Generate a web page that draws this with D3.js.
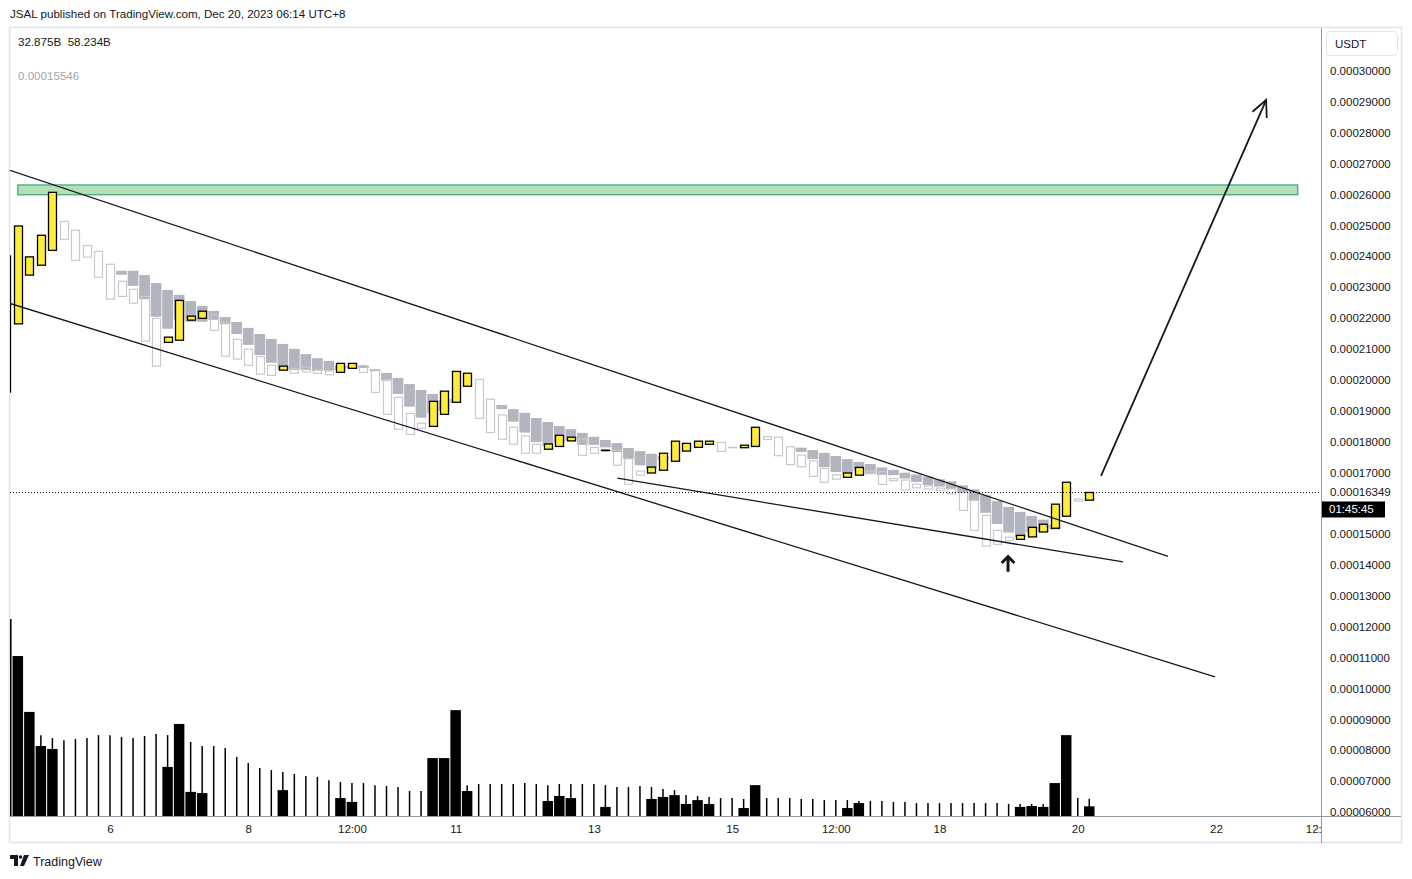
<!DOCTYPE html>
<html>
<head>
<meta charset="utf-8">
<script src="https://cdn.jsdelivr.net/npm/d3@7"></script>
<style>
  body { margin: 0; background: #ffffff; }
  text { font-family: "Liberation Sans", Arial, sans-serif; }
</style>
</head>
<body>
<svg id="c" width="1412" height="879"></svg>
<script>
// ---------------- DATA (4h bars, first bar = Dec 4 12:00, UTC+8) ----------------
const START = Date.UTC(2023, 11, 4, 12);
const H4 = 4 * 3600 * 1000;

const openPrice = [
  19.60e-5, 21.81e-5, 23.39e-5, 23.71e-5, 24.19e-5, 25.13e-5, 24.84e-5, 24.35e-5, 24.16e-5, 23.74e-5,
  23.19e-5, 22.93e-5, 22.70e-5, 21.99e-5, 21.21e-5, 21.28e-5, 21.93e-5, 21.99e-5, 22.10e-5, 21.86e-5,
  21.31e-5, 20.99e-5, 20.75e-5, 20.47e-5, 20.31e-5, 20.36e-5, 20.41e-5, 20.32e-5, 20.29e-5, 20.24e-5,
  20.37e-5, 20.46e-5, 20.33e-5, 20.01e-5, 19.43e-5, 18.91e-5, 18.59e-5, 18.49e-5, 18.88e-5, 19.27e-5,
  19.79e-5, 20.01e-5, 19.37e-5, 18.86e-5, 18.46e-5, 18.18e-5, 17.91e-5, 17.75e-5, 17.84e-5, 18.02e-5,
  18.08e-5, 17.81e-5, 17.71e-5, 17.72e-5, 17.44e-5, 17.04e-5, 16.98e-5, 17.07e-5, 17.36e-5, 17.69e-5,
  17.81e-5, 17.91e-5, 17.97e-5, 17.815e-5, 17.80e-5, 17.84e-5, 18.16e-5, 18.14e-5, 17.83e-5, 17.56e-5,
  17.37e-5, 17.13e-5, 16.92e-5, 16.84e-5, 16.91e-5, 17.04e-5, 17.02e-5, 16.80e-5, 16.75e-5, 16.62e-5,
  16.56e-5, 16.49e-5, 16.47e-5, 16.34e-5, 16.10e-5, 15.61e-5, 15.12e-5, 14.90e-5, 14.83e-5, 14.91e-5,
  15.07e-5, 15.19e-5, 15.58e-5, 16.14e-5, 16.10e-5
];
const closePrice = [
  24.01e-5, 24.98e-5, 23.98e-5, 24.68e-5, 26.07e-5, 24.55e-5, 23.87e-5, 23.97e-5, 23.32e-5, 22.61e-5,
  22.70e-5, 22.48e-5, 21.25e-5, 20.44e-5, 21.38e-5, 22.57e-5, 22.06e-5, 22.22e-5, 21.60e-5, 20.76e-5,
  20.67e-5, 20.47e-5, 20.18e-5, 20.14e-5, 20.44e-5, 20.21e-5, 20.25e-5, 20.21e-5, 20.16e-5, 20.53e-5,
  20.53e-5, 20.24e-5, 19.59e-5, 18.88e-5, 18.40e-5, 18.23e-5, 18.43e-5, 19.30e-5, 19.63e-5, 20.27e-5,
  20.21e-5, 18.75e-5, 18.29e-5, 18.07e-5, 17.91e-5, 17.62e-5, 17.62e-5, 17.92e-5, 18.20e-5, 18.14e-5,
  17.55e-5, 17.62e-5, 17.72e-5, 17.23e-5, 16.62e-5, 16.91e-5, 17.17e-5, 17.62e-5, 18.01e-5, 17.94e-5,
  18.01e-5, 18.01e-5, 17.68e-5, 17.81e-5, 17.88e-5, 18.46e-5, 18.07e-5, 17.54e-5, 17.25e-5, 17.18e-5,
  16.87e-5, 16.68e-5, 16.78e-5, 16.98e-5, 17.16e-5, 16.97e-5, 16.61e-5, 16.73e-5, 16.43e-5, 16.50e-5,
  16.46e-5, 16.41e-5, 16.30e-5, 15.77e-5, 15.12e-5, 14.61e-5, 14.67e-5, 14.79e-5, 14.96e-5, 15.22e-5,
  15.32e-5, 15.97e-5, 16.68e-5, 16.07e-5, 16.349e-5
];
// grey overlay bodies (top / bottom), null where not drawn
const shadeTop = [
  null, null, null, null, null, null, null, null, null, null,
  23.53e-5, 23.53e-5, 23.39e-5, 23.13e-5, 22.91e-5, 22.75e-5, 22.55e-5, 22.39e-5, 22.23e-5, 22.03e-5,
  21.87e-5, 21.68e-5, 21.48e-5, 21.32e-5, 21.16e-5, 21.00e-5, 20.83e-5, 20.70e-5, 20.61e-5, 20.45e-5,
  20.45e-5, 20.46e-5, 20.35e-5, 20.22e-5, 20.06e-5, 19.86e-5, 19.67e-5, 19.54e-5, 19.35e-5, 19.38e-5,
  null, null, null, 19.18e-5, 19.05e-5, 18.93e-5, 18.76e-5, 18.63e-5, 18.50e-5, 18.40e-5,
  18.28e-5, 18.15e-5, 18.05e-5, 17.95e-5, 17.79e-5, 17.69e-5, 17.60e-5, 17.52e-5, null, null,
  null, null, null, null, null, null, null, null, null, 17.80e-5,
  17.72e-5, 17.63e-5, 17.53e-5, 17.43e-5, 17.34e-5, 17.27e-5, 17.16e-5, 17.08e-5, 16.99e-5, 16.93e-5,
  16.86e-5, 16.78e-5, 16.71e-5, 16.58e-5, 16.45e-5, 16.26e-5, 16.07e-5, 15.88e-5, 15.72e-5, 15.59e-5,
  15.47e-5, 15.30e-5, null, null, null
];
const shadeBottom = [
  null, null, null, null, null, null, null, null, null, null,
  23.40e-5, 23.04e-5, 22.61e-5, 22.04e-5, 21.65e-5, 21.95e-5, 21.88e-5, 21.88e-5, 21.94e-5, 21.80e-5,
  21.48e-5, 21.13e-5, 20.80e-5, 20.55e-5, 20.32e-5, 20.32e-5, 20.32e-5, 20.29e-5, 20.29e-5, 20.32e-5,
  20.38e-5, 20.38e-5, 20.28e-5, 19.97e-5, 19.54e-5, 19.13e-5, 18.77e-5, 18.92e-5, 19.00e-5, 19.25e-5,
  null, null, null, 19.05e-5, 18.64e-5, 18.29e-5, 17.98e-5, 17.85e-5, 17.96e-5, 18.03e-5,
  17.89e-5, 17.89e-5, 17.81e-5, 17.66e-5, 17.44e-5, 17.23e-5, 17.13e-5, 17.41e-5, null, null,
  null, null, null, null, null, null, null, null, null, 17.66e-5,
  17.43e-5, 17.17e-5, 17.01e-5, 16.95e-5, 17.05e-5, 16.94e-5, 16.92e-5, 16.91e-5, 16.80e-5, 16.69e-5,
  16.59e-5, 16.54e-5, 16.46e-5, 16.35e-5, 16.08e-5, 15.69e-5, 15.33e-5, 15.05e-5, 14.90e-5, 15.06e-5,
  15.07e-5, 15.15e-5, null, null, null
];
// volume (billions) and its moving average
const volume = [
  670, 544, 354, 238, 228, 0, 0, 0, 0, 0,
  0, 0, 0, 0, 167, 313, 82, 78, 0, 0,
  0, 0, 0, 0, 88, 0, 0, 0, 0, 61,
  48, 0, 0, 0, 0, 0, 0, 197, 197, 360,
  85, 0, 0, 0, 0, 0, 0, 51, 68, 61,
  0, 0, 31, 0, 0, 0, 58, 65, 71, 41,
  54, 41, 0, 0, 27, 105, 0, 0, 0, 0,
  0, 0, 0, 27, 44, 0, 0, 0, 0, 0,
  0, 0, 0, 0, 0, 0, 0, 0, 31, 34,
  31, 112, 275, 0, 32.875
];
const volumeMA = [
  null, null, null, 275, 265, 258, 262, 265, 275, 275,
  269, 265, 272, 279, 275, 272, 252, 238, 238, 231,
  201, 180, 163, 156, 150, 143, 136, 133, 122, 116,
  112, 112, 105, 102, 99, 85, 85, 88, 95, 105,
  105, 109, 109, 109, 109, 112, 109, 105, 109, 109,
  109, 109, 105, 99, 99, 102, 99, 92, 88, 71,
  68, 65, 61, 61, 58, 61, 61, 61, 61, 58,
  58, 54, 54, 54, 51, 51, 51, 48, 48, 44,
  44, 44, 44, 44, 44, 44, 44, 41, 41, 41,
  41, 44, 51, 61, 58.234
];
const priceTicks = [6e-5, 7e-5, 8e-5, 9e-5, 10e-5, 11e-5, 12e-5, 13e-5, 14e-5, 15e-5,
  17e-5, 18e-5, 19e-5, 20e-5, 21e-5, 22e-5, 23e-5, 24e-5, 25e-5, 26e-5, 27e-5, 28e-5, 29e-5, 30e-5];
const timeTickDates = [
  Date.UTC(2023, 11, 6), Date.UTC(2023, 11, 8), Date.UTC(2023, 11, 9, 12), Date.UTC(2023, 11, 11),
  Date.UTC(2023, 11, 13), Date.UTC(2023, 11, 15), Date.UTC(2023, 11, 16, 12), Date.UTC(2023, 11, 18),
  Date.UTC(2023, 11, 20), Date.UTC(2023, 11, 22), Date.UTC(2023, 11, 23, 12)
];
const timeTickLabels = ["6", "8", "12:00", "11", "13", "15", "12:00", "18", "20", "22", "12:00"];
const lastPrice = 16.349e-5;
const countdown = "01:45:45";
const indicatorValue = "0.00015546";
// drawings, positioned by bar index (fractional) and price
const upperLine = [{bar: 0.32, price: 26.78e-5}, {bar: 100.84, price: 14.28e-5}];
const lowerLine = [{bar: 0.32, price: 22.47e-5}, {bar: 104.92, price: 10.38e-5}];
const wedgeLine = [{bar: 53.04, price: 16.815e-5}, {bar: 96.93, price: 14.10e-5}];
const bigArrow = [{bar: 95.02, price: 16.89e-5}, {bar: 109.35, price: 29.06e-5}];
const smallArrow = [{bar: 86.95, price: 13.78e-5}, {bar: 86.95, price: 14.27e-5}];
const zone = {barFrom: 1, barTo: 112.1, priceLow: 25.99e-5, priceHigh: 26.31e-5};

// ---------------- SCALES ----------------
const svg = d3.select("#c");
const plot = {l: 10, r: 1321, t: 27, b: 816};
const x = d3.scaleUtc()
  .domain([new Date(Date.UTC(2023, 11, 6)), new Date(Date.UTC(2023, 11, 22))])
  .range([110, 1216]);
const y = d3.scaleLinear().domain([6e-5, 30e-5]).range([812, 71]);
const vy = d3.scaleLinear().domain([0, 670]).range([816, 619]);
const xb = b => x(new Date(START + b * H4));
const step = xb(1) - xb(0);
const bodyW = 8, shadeW = step * 0.93, volW = step * 0.91;
const idx = d3.range(openPrice.length);
const INK = "#131722";

// ---------------- FRAME ----------------
const defs = svg.append("defs");
defs.append("clipPath").attr("id", "plotClip").append("rect")
  .attr("x", plot.l).attr("y", plot.t).attr("width", plot.r - plot.l).attr("height", plot.b - plot.t);
defs.append("clipPath").attr("id", "timeClip").append("rect")
  .attr("x", plot.l).attr("y", plot.b).attr("width", plot.r - plot.l).attr("height", 27);
defs.append("clipPath").attr("id", "priceClip").append("rect")
  .attr("x", plot.r).attr("y", plot.t).attr("width", 80).attr("height", plot.b - plot.t);

svg.append("text").attr("x", 10).attr("y", 18).attr("font-size", 11.6).attr("fill", INK)
  .text("JSAL published on TradingView.com, Dec 20, 2023 06:14 UTC+8");

svg.append("rect").attr("x", 9.5).attr("y", 27.5).attr("width", 1392).attr("height", 815)
  .attr("fill", "#fff").attr("stroke", "#e0e3eb").attr("stroke-width", 1.5);

// ---------------- PLOT ----------------
const g = svg.append("g").attr("clip-path", "url(#plotClip)");

// green zone
g.append("rect")
  .attr("x", xb(zone.barFrom)).attr("y", y(zone.priceHigh))
  .attr("width", xb(zone.barTo) - xb(zone.barFrom))
  .attr("height", y(zone.priceLow) - y(zone.priceHigh))
  .attr("fill", "#b3dfb5").attr("stroke", "#22966b").attr("stroke-width", 1);

// grey overlay bodies
g.append("g").selectAll("rect")
  .data(idx.filter(k => shadeTop[k] != null))
  .join("rect")
  .attr("x", k => xb(k) - shadeW / 2)
  .attr("y", k => y(shadeTop[k]))
  .attr("width", shadeW)
  .attr("height", k => Math.max(1, y(shadeBottom[k]) - y(shadeTop[k])))
  .attr("fill", "#b2b5be");

// bearish (hollow) candles
g.append("g").selectAll("rect")
  .data(idx.filter(k => closePrice[k] < openPrice[k]))
  .join("rect")
  .attr("x", k => Math.round(xb(k) - bodyW / 2) + 0.5)
  .attr("y", k => y(openPrice[k]))
  .attr("width", bodyW)
  .attr("height", k => Math.max(0.5, y(closePrice[k]) - y(openPrice[k])))
  .attr("fill", "none").attr("stroke", "#c8c9cc").attr("stroke-width", 1.2);

// bullish (yellow) candles
g.append("g").selectAll("rect")
  .data(idx.filter(k => closePrice[k] >= openPrice[k]))
  .join("rect")
  .attr("x", k => Math.round(xb(k) - bodyW / 2) + 0.5)
  .attr("y", k => y(closePrice[k]))
  .attr("width", bodyW)
  .attr("height", k => Math.max(0.5, y(openPrice[k]) - y(closePrice[k])))
  .attr("fill", "#ffeb3b").attr("stroke", "#000").attr("stroke-width", 1.3);

// volume MA columns
g.append("g").selectAll("line")
  .data(idx.filter(k => volumeMA[k] != null))
  .join("line")
  .attr("x1", k => xb(k)).attr("x2", k => xb(k))
  .attr("y1", vy(0)).attr("y2", k => vy(volumeMA[k]))
  .attr("stroke", "#000").attr("stroke-width", 1.5);

// volume bars
g.append("g").selectAll("rect")
  .data(idx.filter(k => volume[k] > 0))
  .join("rect")
  .attr("x", k => xb(k) - volW / 2)
  .attr("y", k => vy(volume[k]))
  .attr("width", volW)
  .attr("height", k => vy(0) - vy(volume[k]))
  .attr("fill", "#000");

// trend lines
const lineGen = d3.line().x(d => xb(d.bar)).y(d => y(d.price));
[upperLine, lowerLine, wedgeLine].forEach(pts => {
  g.append("path").attr("d", lineGen(pts)).attr("fill", "none")
    .attr("stroke", INK).attr("stroke-width", 1.3);
});

// arrows
function arrow(pts, width, headLen, headAngle) {
  const x0 = xb(pts[0].bar), y0 = y(pts[0].price), x1 = xb(pts[1].bar), y1 = y(pts[1].price);
  const a = Math.atan2(y1 - y0, x1 - x0);
  const wing = s => [x1 - headLen * Math.cos(a + s * headAngle), y1 - headLen * Math.sin(a + s * headAngle)];
  g.append("path").attr("d", d3.line()([[x0, y0], [x1, y1]])).attr("fill", "none")
    .attr("stroke", INK).attr("stroke-width", width);
  g.append("path").attr("d", d3.line()([wing(1), [x1, y1], wing(-1)])).attr("fill", "none")
    .attr("stroke", INK).attr("stroke-width", width).attr("stroke-linejoin", "miter");
}
arrow(bigArrow, 1.8, 18, Math.PI / 7);
arrow(smallArrow, 3, 9, Math.PI / 4);

// last price dotted line
svg.append("line").attr("x1", plot.l).attr("x2", plot.r)
  .attr("y1", Math.round(y(lastPrice)) + 0.5).attr("y2", Math.round(y(lastPrice)) + 0.5)
  .attr("stroke", "#000").attr("stroke-width", 1).attr("stroke-dasharray", "1,2");

// legend texts
svg.append("text").attr("x", 18).attr("y", 46).attr("font-size", 11.6).attr("fill", INK)
  .attr("xml:space", "preserve")
  .text(`${volume[volume.length - 1].toFixed(3)}B  ${volumeMA[volumeMA.length - 1].toFixed(3)}B`);
svg.append("text").attr("x", 18).attr("y", 80).attr("font-size", 11.6).attr("fill", "#a3a6af")
  .text(indicatorValue);

// ---------------- AXES ----------------
svg.append("line").attr("x1", plot.r + 0.5).attr("x2", plot.r + 0.5).attr("y1", 28).attr("y2", 843)
  .attr("stroke", "#9598a1").attr("stroke-width", 1);
svg.append("line").attr("x1", 10).attr("x2", 1401).attr("y1", plot.b + 0.5).attr("y2", plot.b + 0.5)
  .attr("stroke", "#9598a1").attr("stroke-width", 1);

const yAxis = svg.append("g").attr("clip-path", "url(#priceClip)").append("g")
  .attr("transform", `translate(1330,0)`)
  .call(d3.axisRight(y).tickValues(priceTicks).tickFormat(d => d.toFixed(8)).tickSize(0).tickPadding(0));
yAxis.select(".domain").remove();
yAxis.selectAll("text").attr("font-size", 11.5).attr("fill", INK)
  .attr("font-family", "'Liberation Sans', Arial, sans-serif");

const xAxis = svg.append("g").attr("clip-path", "url(#timeClip)").append("g")
  .attr("transform", `translate(0,${plot.b})`)
  .call(d3.axisBottom(x).tickValues(timeTickDates.map(t => new Date(t)))
    .tickFormat((d, i) => timeTickLabels[i]).tickSize(0).tickPadding(9));
xAxis.select(".domain").remove();
xAxis.selectAll("text").attr("font-size", 11.5).attr("fill", INK)
  .attr("font-family", "'Liberation Sans', Arial, sans-serif");

// USDT box
svg.append("rect").attr("x", 1326.5).attr("y", 31.5).attr("width", 71).attr("height", 24).attr("rx", 4)
  .attr("fill", "#fff").attr("stroke", "#e0e3eb");
svg.append("text").attr("x", 1335).attr("y", 48).attr("font-size", 11.5).attr("fill", INK).text("USDT");

// last price label + countdown
const ly = y(lastPrice);
svg.append("rect").attr("x", 1323).attr("y", ly - 8).attr("width", 70).attr("height", 16).attr("fill", "#fff");
svg.append("text").attr("x", 1330).attr("y", ly + 4).attr("font-size", 11.5).attr("fill", INK)
  .text(lastPrice.toFixed(8));
svg.append("rect").attr("x", 1322).attr("y", ly + 9).attr("width", 63).attr("height", 16).attr("fill", "#000");
svg.append("text").attr("x", 1329).attr("y", ly + 21).attr("font-size", 11.5).attr("fill", "#fff")
  .text(countdown);

// TradingView logo
const logo = svg.append("g").attr("fill", INK);
logo.append("path").attr("d", "M10,855 h8 v11 h-4 v-7 h-4 z");
logo.append("circle").attr("cx", 20.5).attr("cy", 857).attr("r", 1.8);
logo.append("path").attr("d", "M24,855 h5 l-5,11 h-4 z");
svg.append("text").attr("x", 33).attr("y", 865.5).attr("font-size", 12.5).attr("fill", INK).text("TradingView");
</script>
</body>
</html>
